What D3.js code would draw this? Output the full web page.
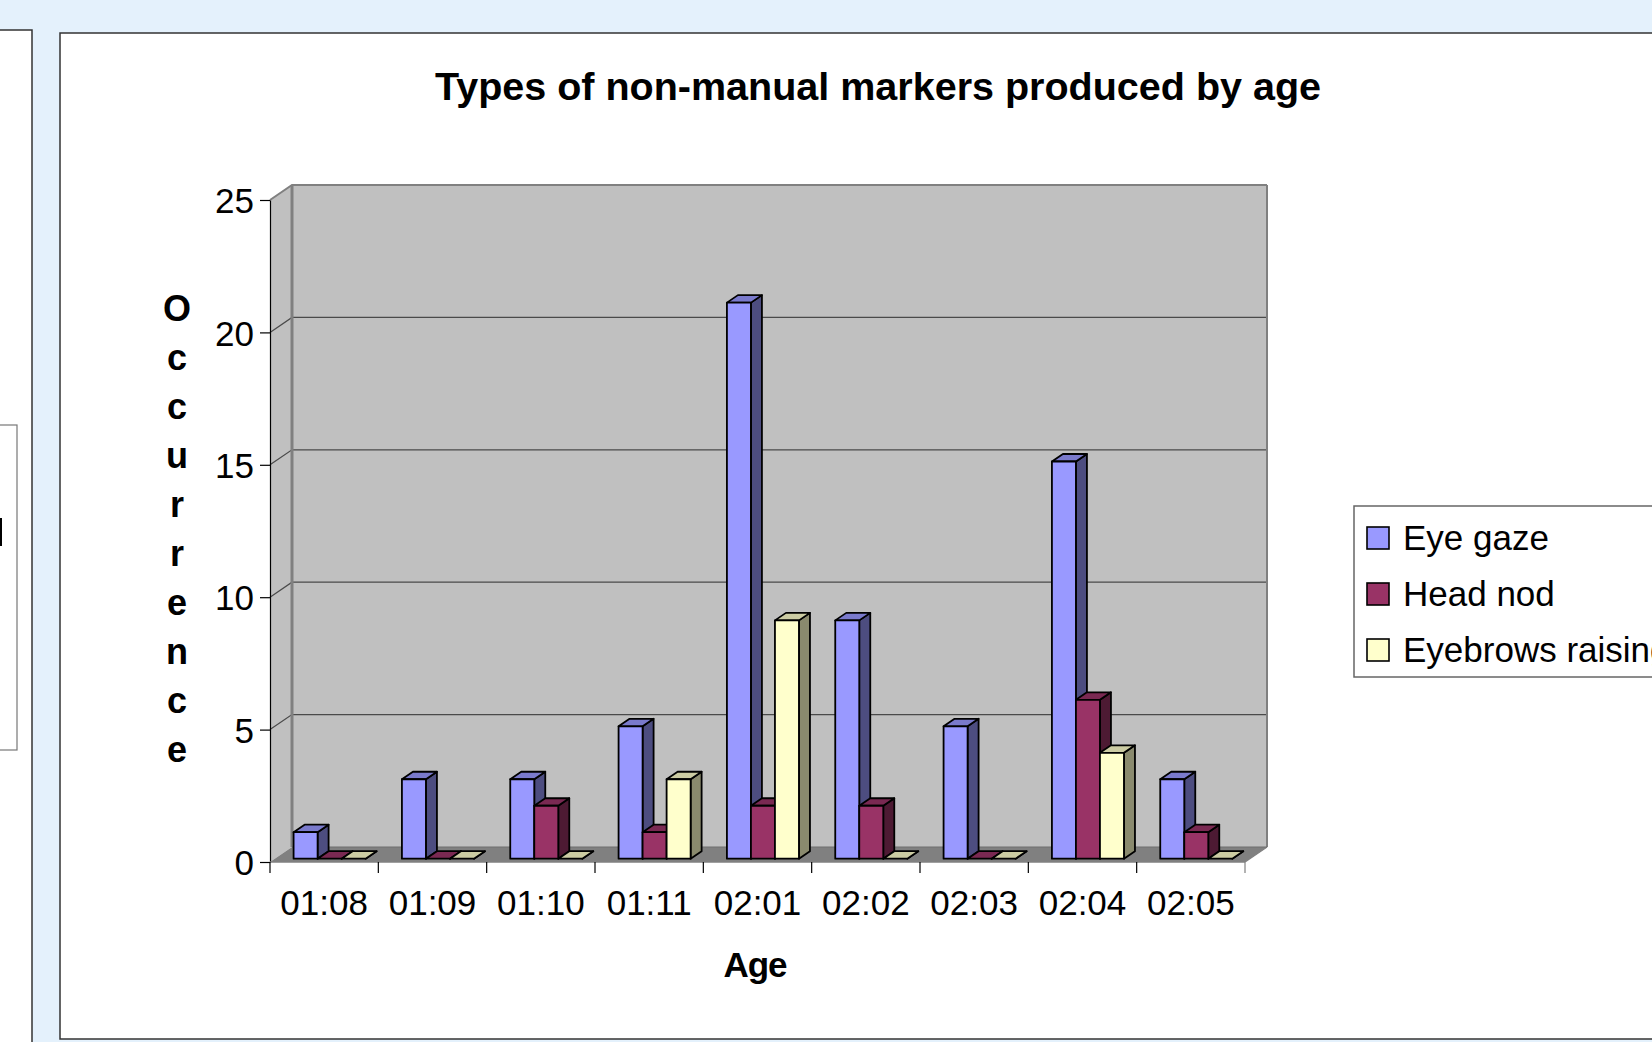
<!DOCTYPE html>
<html>
<head>
<meta charset="utf-8">
<script src="https://cdn.jsdelivr.net/npm/d3@7"></script>
<style>
  html, body { margin: 0; padding: 0; background: #e4f1fc; }
  svg { display: block; }
  text { font-family: "Liberation Sans", Arial, Helvetica, sans-serif; }
</style>
</head>
<body>
<svg id="chart" width="1652" height="1042"></svg>
<script>
// ---- data ----
const categories = ["01:08", "01:09", "01:10", "01:11", "02:01", "02:02", "02:03", "02:04", "02:05"];
const seriesNames = ["Eye gaze", "Head nod", "Eyebrows raising"];
const eyeGaze = [1, 3, 3, 5, 21, 9, 5, 15, 3];
const headNod = [0, 0, 2, 1, 2, 2, 0, 6, 1];
const eyebrowsRaising = [0, 0, 0, 3, 9, 0, 0, 4, 0];
const yTicks = [0, 5, 10, 15, 20, 25];
const chartTitle = "Types of non-manual markers produced by age";
const yTitle = "Occurrence";
const xTitle = "Age";

const seriesValues = [eyeGaze, headNod, eyebrowsRaising];
const frontColors = ["#9999FF", "#993366", "#FFFFCC"];
const topColors = ["#7A7ACC", "#7A2952", "#CCCCA3"];
const sideColors = ["#4D4D80", "#4D1A33", "#8A8A6E"];

const svg = d3.select("#chart");
const W = 1652, H = 1042;

// ---- page background / panels ----
svg.append("rect").attr("x", 0).attr("y", 0).attr("width", W).attr("height", H).attr("fill", "#e4f1fc");
// left panel
svg.append("rect").attr("x", -5).attr("y", 30).attr("width", 37).attr("height", H).attr("fill", "#ffffff")
  .attr("stroke", "#333").attr("stroke-width", 1.5);
svg.append("rect").attr("x", -5).attr("y", 425).attr("width", 22).attr("height", 325).attr("fill", "#ffffff")
  .attr("stroke", "#777").attr("stroke-width", 1.2);
svg.append("rect").attr("x", 0).attr("y", 518).attr("width", 2).attr("height", 28).attr("fill", "#000");
// main panel
svg.append("rect").attr("x", 60).attr("y", 33).attr("width", W).attr("height", 1006).attr("fill", "#ffffff")
  .attr("stroke", "#333").attr("stroke-width", 1.5);

// ---- geometry ----
const x0 = 270, x1 = 1245, yBase = 862, yTop = 200;
const D = { x: 22, y: -15 };    // depth vector of floor
const z0 = 0.22, z1 = 0.72;      // bar depth range

const y = d3.scaleLinear().domain([0, 25]).range([yBase, yTop]);
const x = d3.scaleBand().domain(categories).range([x0, x1]).paddingInner(0).paddingOuter(0);
const bw = x.bandwidth();
const xs = d3.scaleBand().domain(seriesNames).range([0.173 * bw, 0.838 * bw]).padding(0);

const g = svg.append("g");

// left side wall
g.append("polygon")
  .attr("points", [[x0, y(25)], [x0 + D.x, y(25) + D.y], [x0 + D.x, yBase + D.y], [x0, yBase]].map(p => p.join(",")).join(" "))
  .attr("fill", "#c0c0c0");
// back wall
g.append("rect").attr("x", x0 + D.x).attr("y", y(25) + D.y)
  .attr("width", x1 - x0).attr("height", yBase - y(25))
  .attr("fill", "#c0c0c0");
// floor
g.append("polygon")
  .attr("points", [[x0, yBase], [x0 + D.x, yBase + D.y], [x1 + D.x, yBase + D.y], [x1, yBase]].map(p => p.join(",")).join(" "))
  .attr("fill", "#808080");

// gridlines
yTicks.forEach(v => {
  if (v === 0) return;
  g.append("polyline")
    .attr("points", [[x0, y(v)], [x0 + D.x, y(v) + D.y], [x1 + D.x, y(v) + D.y]].map(p => p.join(",")).join(" "))
    .attr("fill", "none").attr("stroke", v === 25 ? "#808080" : "#4a4a4a").attr("stroke-width", v === 25 ? 2 : 1.2);
});
// wall edges
g.append("line").attr("x1", x0 + D.x).attr("x2", x0 + D.x).attr("y1", y(25) + D.y).attr("y2", yBase + D.y)
  .attr("stroke", "#808080").attr("stroke-width", 3);
g.append("line").attr("x1", x1 + D.x).attr("x2", x1 + D.x).attr("y1", y(25) + D.y).attr("y2", yBase + D.y)
  .attr("stroke", "#808080").attr("stroke-width", 2);
g.append("line").attr("x1", x1).attr("x2", x1 + D.x).attr("y1", yBase).attr("y2", yBase + D.y)
  .attr("stroke", "#808080").attr("stroke-width", 1.5);
g.append("line").attr("x1", x0 + D.x).attr("x2", x1 + D.x).attr("y1", yBase + D.y).attr("y2", yBase + D.y)
  .attr("stroke", "#6e6e6e").attr("stroke-width", 1);

// ---- bars ----
const bars = [];
categories.forEach((c, ci) => {
  seriesNames.forEach((s, si) => {
    bars.push({ c, s, si, v: seriesValues[si][ci] });
  });
});
const barG = g.append("g");
const fx = z0 * D.x, fy = z0 * D.y;
const dx = (z1 - z0) * D.x, dy = (z1 - z0) * D.y;
bars.forEach(b => {
  const L = x(b.c) + xs(b.s) + fx;
  const R = L + xs.bandwidth();
  const T = y(b.v) + fy;
  const B = y(0) + fy;
  const bg = barG.append("g").attr("stroke", "#000").attr("stroke-width", 1.8).attr("stroke-linejoin", "round");
  // side
  bg.append("polygon")
    .attr("points", [[R, T], [R + dx, T + dy], [R + dx, B + dy], [R, B]].map(p => p.join(",")).join(" "))
    .attr("fill", sideColors[b.si]);
  // top
  bg.append("polygon")
    .attr("points", [[L, T], [L + dx, T + dy], [R + dx, T + dy], [R, T]].map(p => p.join(",")).join(" "))
    .attr("fill", topColors[b.si]);
  // front
  bg.append("rect").attr("x", L).attr("y", T).attr("width", R - L).attr("height", B - T)
    .attr("fill", frontColors[b.si]);
});

// ---- axes ----
const yAxis = d3.axisLeft(y).tickValues(yTicks).tickSize(10).tickSizeOuter(0).tickPadding(6);
const ya = svg.append("g").attr("transform", `translate(${x0},0)`).call(yAxis);
ya.select(".domain").attr("stroke", "#000").attr("stroke-width", 1.2);
ya.selectAll(".tick line").attr("stroke", "#000").attr("stroke-width", 1.2);
ya.selectAll(".tick text").attr("font-size", 35).attr("fill", "#000")
  .attr("font-family", "'Liberation Sans', Arial, sans-serif").attr("dy", "0.36em");

// x axis line
svg.append("line").attr("x1", x0).attr("x2", x1).attr("y1", yBase).attr("y2", yBase)
  .attr("stroke", "#808080").attr("stroke-width", 1.5);
const boundaries = categories.map(c => x(c)).concat([x1]);
svg.selectAll(".xtick").data(boundaries).enter().append("line")
  .attr("x1", d => d).attr("x2", d => d).attr("y1", yBase).attr("y2", yBase + 11)
  .attr("stroke", (d, i) => i === boundaries.length - 1 ? "#808080" : "#000").attr("stroke-width", 1.2);
const xAxis = d3.axisBottom(x).tickSize(0).tickPadding(0);
const xa = svg.append("g").attr("transform", `translate(0,${yBase})`).call(xAxis);
xa.select(".domain").remove();
xa.selectAll(".tick text").attr("font-size", 35).attr("fill", "#000")
  .attr("font-family", "'Liberation Sans', Arial, sans-serif").attr("y", 53).attr("dy", 0);

// ---- titles ----
svg.append("text").attr("x", 878).attr("y", 100).attr("text-anchor", "middle")
  .attr("font-size", 39.5).attr("font-weight", "bold").attr("fill", "#000").text(chartTitle);

svg.append("text").attr("x", 755).attr("y", 977).attr("text-anchor", "middle")
  .attr("font-size", 35).attr("font-weight", "bold").attr("fill", "#000")
  .attr("letter-spacing", -1).text(xTitle);

const yt = svg.append("text").attr("text-anchor", "middle").attr("font-size", 36)
  .attr("font-weight", "bold").attr("fill", "#000");
yTitle.split("").forEach((ch, i) => {
  yt.append("tspan").attr("x", 177).attr("y", 321 + i * 49).text(ch);
});

// ---- legend ----
const lg = svg.append("g");
lg.append("rect").attr("x", 1354).attr("y", 506).attr("width", 400).attr("height", 171)
  .attr("fill", "#fff").attr("stroke", "#666").attr("stroke-width", 1.5);
seriesNames.forEach((s, i) => {
  const yy = 527 + i * 56;
  lg.append("rect").attr("x", 1367).attr("y", yy).attr("width", 22).attr("height", 22)
    .attr("fill", frontColors[i]).attr("stroke", "#000").attr("stroke-width", 1.6);
  lg.append("text").attr("x", 1403).attr("y", yy + 23).attr("font-size", 35).attr("fill", "#000").text(s);
});
</script>
</body>
</html>
